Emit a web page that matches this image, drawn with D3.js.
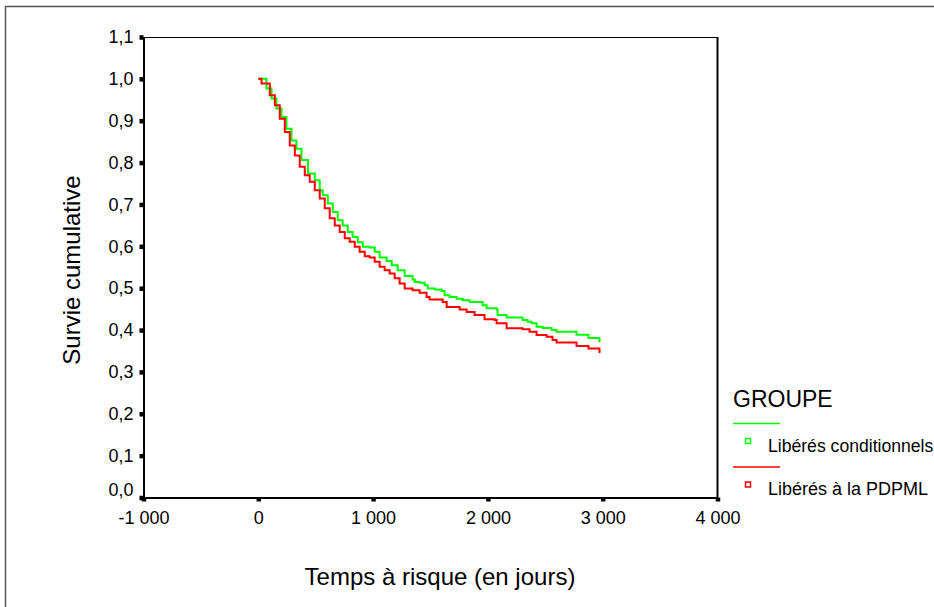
<!DOCTYPE html>
<html>
<head>
<meta charset="utf-8">
<script src="https://cdn.jsdelivr.net/npm/d3@7"></script>
<style>
    body { margin: 0; background: #fff; }
    svg { display: block; font-family: "Liberation Sans", Arial, sans-serif; }
</style>
</head>
<body>
<div id="chart"></div>
<script>
// data (days, cumulative survival)
const timesLC = [0, 71, 115, 158, 202, 245, 289, 332, 376, 433, 492, 535, 561, 605, 648, 692, 735, 779, 822, 866, 910, 970, 1014, 1057, 1118, 1162, 1214, 1275, 1344, 1362, 1405, 1449, 1475, 1536, 1597, 1623, 1666, 1728, 1780, 1841, 1954, 1989, 2076, 2084, 2163, 2302, 2346, 2380, 2424, 2476, 2555, 2598, 2772, 2876, 2972];
const survivalLC = [1.0, 0.977, 0.953, 0.929, 0.909, 0.881, 0.853, 0.833, 0.806, 0.774, 0.758, 0.734, 0.722, 0.702, 0.682, 0.662, 0.650, 0.634, 0.622, 0.610, 0.599, 0.597, 0.587, 0.573, 0.565, 0.555, 0.543, 0.529, 0.521, 0.515, 0.513, 0.507, 0.499, 0.497, 0.493, 0.483, 0.479, 0.475, 0.471, 0.467, 0.459, 0.452, 0.449, 0.436, 0.430, 0.424, 0.420, 0.416, 0.408, 0.405, 0.400, 0.396, 0.389, 0.381, 0.371];

const timesPD = [0, 28, 100, 144, 187, 231, 274, 318, 361, 405, 448, 492, 535, 579, 622, 666, 709, 753, 796, 840, 883, 927, 970, 1014, 1057, 1101, 1144, 1188, 1231, 1275, 1344, 1405, 1466, 1492, 1606, 1641, 1754, 1815, 1884, 1971, 2058, 2076, 2163, 2302, 2363, 2424, 2511, 2563, 2598, 2772, 2876, 2972];
const survivalPD = [1.0, 0.989, 0.961, 0.937, 0.905, 0.873, 0.841, 0.817, 0.790, 0.770, 0.754, 0.734, 0.714, 0.691, 0.667, 0.650, 0.634, 0.619, 0.611, 0.599, 0.587, 0.576, 0.573, 0.563, 0.551, 0.543, 0.535, 0.524, 0.511, 0.499, 0.495, 0.489, 0.479, 0.473, 0.467, 0.455, 0.449, 0.443, 0.436, 0.426, 0.424, 0.416, 0.404, 0.402, 0.396, 0.388, 0.384, 0.376, 0.370, 0.362, 0.356, 0.345];

const xTicks = [-1000, 0, 1000, 2000, 3000, 4000];
const yTicks = [0, 0.1, 0.2, 0.3, 0.4, 0.5, 0.6, 0.7, 0.8, 0.9, 1.0, 1.1];
const groups = ["Libérés conditionnels", "Libérés à la PDPML"];
const colors = ["#00ff00", "#ff0000"];

const W = 934, H = 607;
const margin = { top: 37, right: 216.5, bottom: 109.5, left: 143.5 };
const width = W - margin.left - margin.right;
const height = H - margin.top - margin.bottom;

// french number format : "1 000", "0,5"
const fr = d3.formatLocale({ decimal: ",", thousands: " ", grouping: [3], currency: ["", " €"], minus: "-" });

const svg = d3.select("#chart")
    .append("svg")
    .attr("width", W)
    .attr("height", H);

// outer frame (runs off the right and bottom of the picture)
svg.append("rect")
    .attr("x", 5.5)
    .attr("y", 6.5)
    .attr("width", W)
    .attr("height", H)
    .attr("fill", "none")
    .attr("stroke", "#555")
    .attr("stroke-width", 1.5);

const g = svg.append("g")
    .attr("transform", `translate(${margin.left},${margin.top})`);

const x = d3.scaleLinear().domain([-1000, 4000]).range([0, width]);
const y = d3.scaleLinear().domain([0, 1.1]).range([height, 0]);

// top and right side of the plot box
g.append("path")
    .attr("d", `M0,0.5H${width}`)
    .attr("stroke", "#000")
    .attr("stroke-width", 1);
g.append("path")
    .attr("d", `M${width},0V${height}`)
    .attr("stroke", "#000")
    .attr("stroke-width", 2);

// Y axis
const yAxis = g.append("g")
    .call(d3.axisLeft(y).tickValues(yTicks).tickFormat(fr.format(".1f")).tickSize(4).tickSizeOuter(0).tickPadding(6));

// X axis
const xAxis = g.append("g")
    .attr("transform", `translate(0,${height})`)
    .call(d3.axisBottom(x).tickValues(xTicks).tickFormat(fr.format(",.0f")).tickSize(4).tickSizeOuter(0).tickPadding(10));

[yAxis, xAxis].forEach(a => {
    a.select(".domain").attr("stroke-width", 2);
    a.selectAll(".tick line").attr("stroke-width", 4.5);
    a.selectAll(".tick text").attr("font-size", 18).attr("fill", "#000");
    a.attr("font-family", null);
});
// 0,0 label sits a bit above its tick
yAxis.selectAll(".tick text").filter(d => d === 0).attr("y", -8);

// survival curves
const line = d3.line()
    .x(d => x(d[0]))
    .y(d => y(d[1]))
    .curve(d3.curveStepAfter);

const series = [
    d3.zip(timesLC, survivalLC),
    d3.zip(timesPD, survivalPD)
];

series.forEach((s, i) => {
    g.append("path")
        .datum(s)
        .attr("fill", "none")
        .attr("stroke", colors[i])
        .attr("stroke-width", 2)
        .attr("d", line);
});

// axis titles
svg.append("text")
    .attr("x", 440)
    .attr("y", 585)
    .attr("text-anchor", "middle")
    .attr("font-size", 24)
    .text("Temps à risque (en jours)");

svg.append("text")
    .attr("transform", "translate(80,270) rotate(-90)")
    .attr("text-anchor", "middle")
    .attr("font-size", 24)
    .text("Survie cumulative");

// legend
const legend = svg.append("g")
    .attr("transform", "translate(733,0)");

legend.append("text")
    .attr("x", 0)
    .attr("y", 406.5)
    .attr("font-size", 23)
    .text("GROUPE");

groups.forEach((name, i) => {
    const yy = 423.5 + i * 43.5;
    legend.append("line")
        .attr("x1", 0).attr("x2", 47)
        .attr("y1", yy).attr("y2", yy)
        .attr("stroke", colors[i])
        .attr("stroke-width", 1.5);
    legend.append("rect")
        .attr("x", 12.5).attr("y", yy + 15)
        .attr("width", 5).attr("height", 5)
        .attr("fill", "none")
        .attr("stroke", colors[i])
        .attr("stroke-width", 1.5);
    legend.append("text")
        .attr("x", 35)
        .attr("y", yy + 28)
        .attr("font-size", i === 0 ? 17.6 : 18)
        .text(name);
});
</script>
</body>
</html>
